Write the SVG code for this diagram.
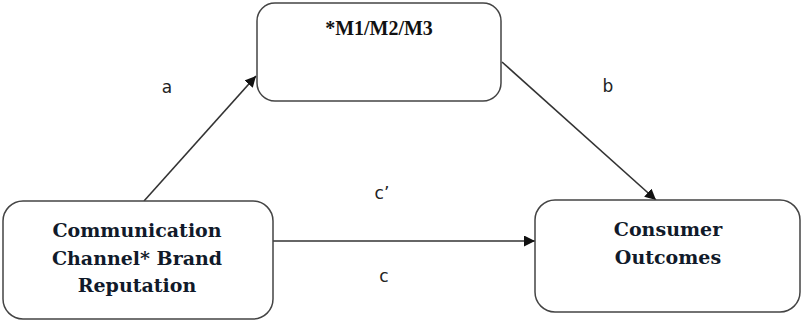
<svg xmlns="http://www.w3.org/2000/svg" width="803" height="322" viewBox="0 0 803 322">
<style>
.box{fill:#fff;stroke:#444;stroke-width:1.5}
.bt{font-family:"DejaVu Serif","Liberation Serif",serif;font-weight:bold;font-size:19px;fill:#111a2a;text-anchor:middle}
.mt{font-family:"Liberation Serif",serif;font-weight:bold;font-size:20px;fill:#111;text-anchor:middle}
.lb{font-family:"DejaVu Sans","Liberation Sans",sans-serif;font-size:17px;fill:#222;text-anchor:middle}
.cn{stroke:#333;stroke-width:1.6;fill:none;marker-end:url(#ah)}
</style>
<defs>
<marker id="ah" viewBox="0 0 10 10" refX="10" refY="5" markerWidth="11" markerHeight="11" markerUnits="userSpaceOnUse" orient="auto">
<path d="M0,0 L10,5 L0,10 z" fill="#111"/>
</marker>
</defs>
<g id="connectors">
<line class="cn" x1="144" y1="201" x2="256" y2="76"/>
<line class="cn" x1="502" y1="62" x2="656" y2="200"/>
<line class="cn" x1="273" y1="241" x2="535" y2="241"/>
</g>
<g id="node-m">
<rect class="box" x="257" y="3" width="244" height="98" rx="18"/>
<text class="mt" x="379" y="35">*M1/M2/M3</text>
</g>
<g id="node-x">
<rect class="box" x="3" y="201" width="270" height="118" rx="20"/>
<text class="bt" x="137" y="237">Communication</text>
<text class="bt" x="137" y="265">Channel* Brand</text>
<text class="bt" x="137" y="292">Reputation</text>
</g>
<g id="node-y">
<rect class="box" x="535" y="200" width="265" height="112" rx="20"/>
<text class="bt" x="668" y="236">Consumer</text>
<text class="bt" x="668" y="264">Outcomes</text>
</g>
<g id="labels">
<text class="lb" x="167" y="93">a</text>
<text class="lb" x="608" y="92">b</text>
<text class="lb" x="382" y="199">c’</text>
<text class="lb" x="384" y="282">c</text>
</g>
</svg>
